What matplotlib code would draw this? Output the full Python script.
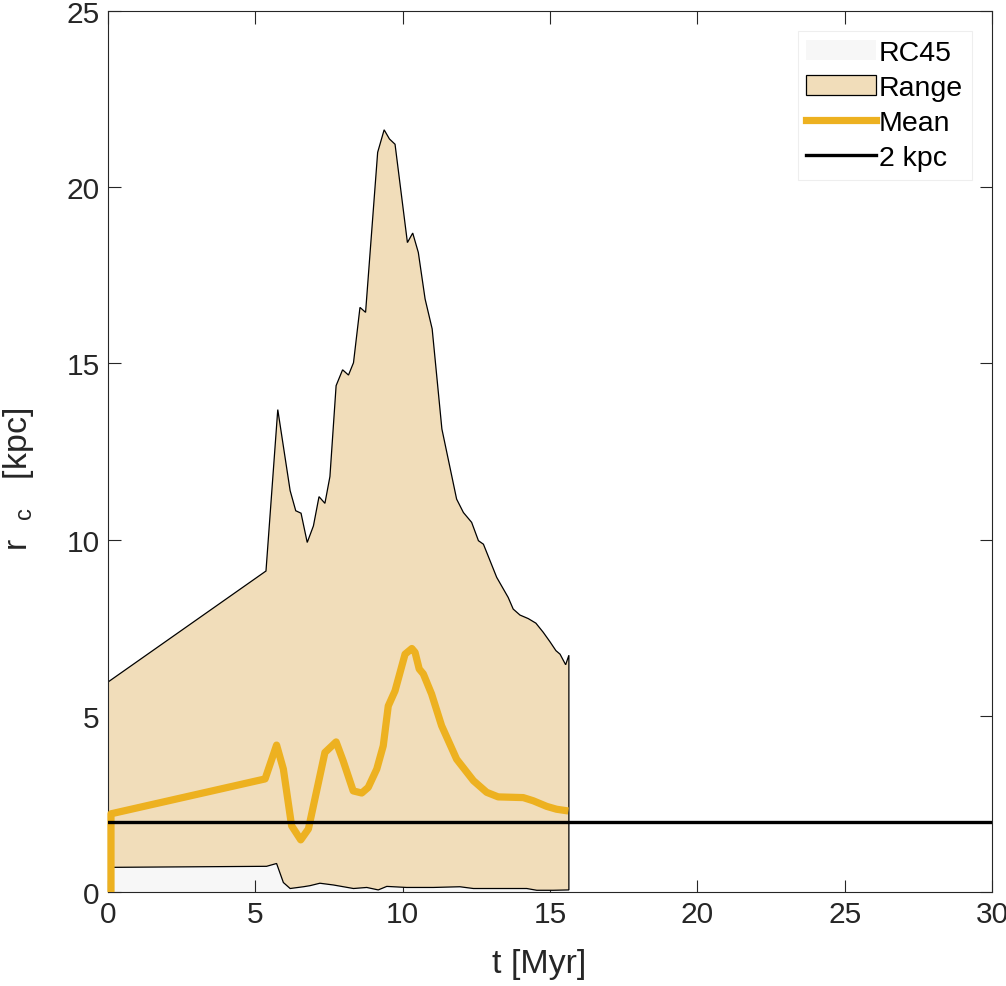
import matplotlib
matplotlib.use("Agg")
import matplotlib.pyplot as plt
from matplotlib.patches import Patch
from matplotlib.lines import Line2D

plt.rcParams.update({"font.family": ["Liberation Sans", "DejaVu Sans"], "font.size": 21.5,
                     "mathtext.fontset": "custom", "mathtext.rm": "Liberation Sans"})

# Range envelope (upper / lower boundary), t in Myr, r_c in kpc
t_up = [0, 5.36, 5.76, 6.18, 6.37, 6.55, 6.76, 6.97, 7.16, 7.36, 7.53, 7.74, 7.96, 8.16, 8.33,
        8.55, 8.74, 9.15, 9.37, 9.55, 9.74, 10.16, 10.34, 10.53, 10.76, 11.0, 11.33, 11.83, 12.06,
        12.34, 12.57, 12.74, 13.19, 13.58, 13.75, 13.98, 14.26, 14.52, 14.77, 15.0, 15.20, 15.34,
        15.53, 15.64]
r_up = [5.96, 9.11, 13.69, 11.39, 10.82, 10.75, 9.92, 10.39, 11.22, 11.03, 11.79, 14.37, 14.82,
        14.67, 15.02, 16.59, 16.45, 20.99, 21.63, 21.37, 21.22, 18.43, 18.70, 18.15, 16.83, 15.98,
        13.14, 11.15, 10.77, 10.49, 9.97, 9.87, 8.93, 8.36, 8.03, 7.86, 7.76, 7.63, 7.37, 7.10,
        6.85, 6.75, 6.45, 6.72]
t_lo = [0, 5.38, 5.72, 5.95, 6.18, 6.63, 6.85, 7.19, 7.65, 8.33, 8.78, 9.17, 9.46, 10.13, 11.04,
        11.94, 12.40, 13.30, 14.21, 14.55, 15.11, 15.64]
r_lo = [0.70, 0.73, 0.81, 0.27, 0.10, 0.15, 0.18, 0.25, 0.20, 0.10, 0.13, 0.06, 0.16, 0.13, 0.13,
        0.15, 0.10, 0.10, 0.10, 0.05, 0.05, 0.06]

# Mean
t_mean = [0.1, 0.1, 5.33, 5.72, 5.95, 6.23, 6.54, 6.80, 7.19, 7.36, 7.74, 7.98, 8.32, 8.61, 8.83,
          9.12, 9.34, 9.51, 9.74, 10.08, 10.31, 10.42, 10.56, 10.70, 10.98, 11.32, 11.83, 12.40,
          12.85, 13.24, 14.09, 14.43, 14.89, 15.22, 15.62]
r_mean = [0.0, 2.22, 3.21, 4.17, 3.49, 1.88, 1.48, 1.79, 3.30, 3.96, 4.26, 3.72, 2.87, 2.81, 2.97,
          3.49, 4.15, 5.28, 5.71, 6.75, 6.91, 6.80, 6.33, 6.19, 5.62, 4.72, 3.77, 3.16,
          2.83, 2.70, 2.68, 2.59, 2.43, 2.35, 2.30]

r_ref = 2.0  # 2 kpc
C_RC45 = "#f7f7f7"
C_RANGE = "#f1ddba"
C_MEAN = "#edb120"
C_AX = "#262626"

fig = plt.figure(figsize=(10.06, 9.87), dpi=100)
ax = fig.add_axes([0.1074, 0.0952, 0.8787, 0.8926])

ax.fill_between(t_lo, 0, r_lo, color=C_RC45, linewidth=0, zorder=1)
ax.fill(t_up + t_lo[::-1], r_up + r_lo[::-1], facecolor=C_RANGE, edgecolor="k",
        linewidth=0.9, zorder=2)
ax.plot(t_mean, r_mean, color=C_MEAN, linewidth=5.2, solid_joinstyle="round",
        solid_capstyle="butt", zorder=3, clip_on=False)
ax.axhline(r_ref, color="k", linewidth=2.4, zorder=4)

ax.set_xlim(0, 30); ax.set_ylim(0, 25)
ax.set_xticks(range(0, 31, 5)); ax.set_yticks(range(0, 26, 5))
ax.tick_params(direction="in", length=9, width=0.8, top=True, right=True, colors=C_AX,
               labelcolor="#262626", pad=6)
for s in ax.spines.values():
    s.set_color(C_AX); s.set_linewidth(0.8)
ax.set_xlabel("t [Myr]", color="#262626", fontsize=24.5)
ax.xaxis.set_label_coords(0.488, -0.064)
ax.set_ylabel(r"r  $_{\mathregular{c}}$   [kpc]", color="#262626", fontsize=24.5)
ax.yaxis.set_label_coords(-0.081, 0.47)

handles = [Patch(facecolor=C_RC45, edgecolor="none", label="RC45"),
           Patch(facecolor=C_RANGE, edgecolor="k", linewidth=0.9, label="Range"),
           Line2D([], [], color=C_MEAN, linewidth=5.2, label="Mean"),
           Line2D([], [], color="k", linewidth=2.4, label="2 kpc")]
leg = ax.legend(handles=handles, loc="upper right", fontsize=20.5, frameon=True, fancybox=False,
                edgecolor="#eeeeee", framealpha=1, handlelength=2.45, handletextpad=0.1,
                labelspacing=0.32, borderpad=0.3, borderaxespad=0, bbox_to_anchor=(0.977, 0.977))
leg.get_frame().set_linewidth(0.8)

fig.savefig("out.png", dpi=100)
